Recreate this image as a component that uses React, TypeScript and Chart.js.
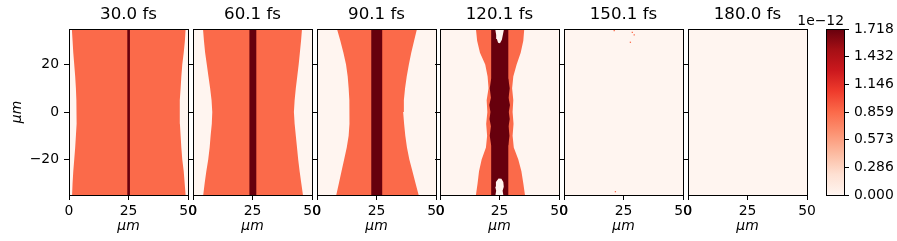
import React, { useEffect, useRef } from 'react';
import { Chart, registerables } from 'chart.js';

Chart.register(...registerables);

// ---------------- data ----------------
const TITLES = ['30.0 fs', '60.1 fs', '90.1 fs', '120.1 fs', '150.1 fs', '180.0 fs'];
const X_RANGE = [0, 50];
const Y_RANGE = [-35, 35];
const X_TICKS = [0, 25, 50];
const Y_TICKS = [-20, 0, 20];
const CB_MAX = 1.7184; // x 1e-12
const CB_TICKS = [0, 0.2864, 0.5728, 0.8592, 1.1456, 1.432, 1.7184];
const CB_OFFSET_TEXT = '1e\u221212';

// field levels (x 1e-12)
const LEVEL_ZERO = 0;
const LEVEL_PLATEAU = 0.8592;
const LEVEL_CORE = 1.7184;

// rows (µm) at which the plateau boundaries were read
const ROW_Y = [35, 30, 25, 20, 15, 10, 5, 0, -5, -10, -15, -20, -25, -30, -35];
const P1_LEFT = [1.2, 1.5, 1.8, 2.2, 2.6, 2.9, 3.1, 3.3, 3.1, 2.9, 2.6, 2.2, 1.8, 1.5, 1.3];
const P1_RIGHT = [49.0, 48.7, 48.2, 47.6, 47.2, 46.9, 46.6, 46.5, 46.6, 46.9, 47.2, 47.6, 48.2, 48.6, 49.0];
const P2_LEFT = [4.2, 4.6, 5.1, 5.8, 6.5, 7.2, 7.8, 8.1, 7.9, 7.4, 7.0, 6.4, 5.6, 4.9, 4.3];
const P2_RIGHT = [45.8, 45.4, 44.9, 44.4, 43.8, 43.2, 42.7, 42.4, 42.7, 43.2, 43.7, 44.2, 44.8, 45.5, 46.2];
const P3_LEFT = [8.4, 9.8, 11.1, 12.2, 12.9, 13.3, 13.6, 13.7, 13.6, 13.3, 12.5, 11.4, 10.3, 9.2, 8.1];
const P3_RIGHT = [42.0, 40.8, 39.6, 38.6, 37.7, 37.0, 36.5, 36.2, 36.6, 37.1, 37.8, 38.8, 40.1, 41.4, 42.7];
const P4_LEFT = [15.1, 15.6, 16.8, 19.0, 20.0, 20.4, 19.6, 19.9, 19.4, 19.8, 19.3, 17.5, 16.4, 15.8, 15.1];
const P4_RIGHT = [35.4, 35.0, 33.9, 32.2, 30.8, 30.3, 30.8, 30.5, 30.9, 30.5, 31.0, 32.9, 34.2, 35.0, 35.7];

// central high-density strip (µm)
const CORE_LO = [24.5, 23.7, 22.8, 21.5, null, null];
const CORE_HI = [25.6, 26.6, 27.4, 28.7, null, null];

// 120.1 fs: ragged core in the middle and the two empty holes
const P4_CORE_Y = [14, 10, 6, 3, 0, -3, -6, -10, -14];
const P4_CORE_LEFT = [21.5, 20.9, 21.4, 20.7, 21.2, 20.8, 21.4, 20.9, 21.5];
const P4_CORE_RIGHT = [28.7, 29.3, 28.8, 29.4, 28.9, 29.3, 28.8, 29.2, 28.7];
const P4_HOLE_TOP_X = [23.2, 26.9, 26.4, 26.0, 25.2, 24.4, 23.9, 23.6];
const P4_HOLE_TOP_Y = [35, 35, 32.5, 30.5, 29.0, 29.2, 30.8, 32.5];
const P4_HOLE_BOT_X = [24.6, 25.8, 26.6, 26.8, 26.3, 26.6, 23.3, 23.6, 23.2, 23.5];
const P4_HOLE_BOT_Y = [-28.0, -28.2, -29.5, -31.5, -33.2, -35, -35, -33.2, -31.5, -29.5];

// 150.1 fs: isolated remaining cells
const P5_SPECK_X = [21.1, 28.7, 29.5, 27.9, 21.6];
const P5_SPECK_Y = [34.3, 33.6, 32.5, 29.4, -33.6];

const PLATEAU_LEFT = [P1_LEFT, P2_LEFT, P3_LEFT, P4_LEFT, null, null];
const PLATEAU_RIGHT = [P1_RIGHT, P2_RIGHT, P3_RIGHT, P4_RIGHT, null, null];

// ---------------- style / layout ----------------
const W = 897;
const H = 241;
const PANEL_LEFT = [69, 193, 317, 440, 564, 688];
const PANEL_W = 119;
const PLOT_TOP = 29;
const PLOT_BOTTOM = 195;
const CB_LEFT = 826;
const CB_RIGHT = 844;
const FONT = 'DejaVu Sans';
const TICK_SIZE = 13.9;
const TITLE_SIZE = 16.67;

const REDS = ['#fff5f0', '#fee0d2', '#fcbba1', '#fc9272', '#fb6a4a', '#ef3b2c', '#cb181d', '#a50f15', '#67000d'];

function hexToRgb(h: string) {
  return [parseInt(h.slice(1, 3), 16), parseInt(h.slice(3, 5), 16), parseInt(h.slice(5, 7), 16)];
}
function reds(v: number) {
  const t = Math.max(0, Math.min(1, v / CB_MAX)) * (REDS.length - 1);
  const i = Math.min(REDS.length - 2, Math.floor(t));
  const f = t - i;
  const a = hexToRgb(REDS[i]);
  const b = hexToRgb(REDS[i + 1]);
  const c = a.map((x, k) => Math.round(x + (b[k] - x) * f));
  return `rgb(${c[0]},${c[1]},${c[2]})`;
}

const band = (ys: number[], lo: number[], hi: number[]) => [
  ...ys.map((y, k) => ({ x: lo[k], y })),
  ...ys.map((y, k) => ({ x: hi[k], y })).reverse(),
];
const rect = (x0: number, x1: number, y0: number, y1: number) => [
  { x: x0, y: y1 },
  { x: x1, y: y1 },
  { x: x1, y: y0 },
  { x: x0, y: y0 },
];
const poly = (xs: number[], ys: number[]) => xs.map((x, k) => ({ x, y: ys[k] }));

const shape = (data: any[], level: number, order: number) => ({
  type: 'line',
  data,
  fill: 'shape',
  backgroundColor: reds(level),
  borderColor: 'rgba(0,0,0,0)',
  borderWidth: 0,
  pointRadius: 0,
  order,
});

const framePlugin = {
  id: 'frame',
  afterDraw(chart: any) {
    const { ctx, chartArea } = chart;
    const l = Math.round(chartArea.left) + 0.5;
    const t = Math.round(chartArea.top) + 0.5;
    const r = Math.round(chartArea.right) + 0.5;
    const b = Math.round(chartArea.bottom) + 0.5;
    ctx.save();
    ctx.strokeStyle = '#000';
    ctx.lineWidth = 1;
    ctx.strokeRect(l, t, r - l, b - t);
    ctx.restore();
  },
};

const offsetTextPlugin = {
  id: 'offsetText',
  afterDraw(chart: any) {
    const { ctx, chartArea } = chart;
    ctx.save();
    ctx.font = `${TICK_SIZE}px "${FONT}"`;
    ctx.fillStyle = '#000';
    ctx.textAlign = 'right';
    ctx.textBaseline = 'alphabetic';
    ctx.fillText(CB_OFFSET_TEXT, chartArea.right, chartArea.top - 4);
    ctx.restore();
  },
};

function panelDatasets(i: number) {
  const ds: any[] = [];
  ds.push(shape(rect(X_RANGE[0], X_RANGE[1], Y_RANGE[0], Y_RANGE[1]), LEVEL_ZERO, 10));
  const lo = PLATEAU_LEFT[i];
  const hi = PLATEAU_RIGHT[i];
  if (lo && hi) ds.push(shape(band(ROW_Y, lo, hi), LEVEL_PLATEAU, 8));
  const c0 = CORE_LO[i];
  const c1 = CORE_HI[i];
  if (c0 != null && c1 != null) ds.push(shape(rect(c0, c1, Y_RANGE[0], Y_RANGE[1]), LEVEL_CORE, 6));
  if (i === 3) {
    ds.push(shape(band(P4_CORE_Y, P4_CORE_LEFT, P4_CORE_RIGHT), LEVEL_CORE, 5));
    ds.push(shape(poly(P4_HOLE_TOP_X, P4_HOLE_TOP_Y), LEVEL_ZERO, 4));
    ds.push(shape(poly(P4_HOLE_BOT_X, P4_HOLE_BOT_Y), LEVEL_ZERO, 4));
  }
  if (i === 4) {
    ds.push({
      type: 'line',
      data: poly(P5_SPECK_X, P5_SPECK_Y),
      showLine: false,
      pointStyle: 'rect',
      pointRadius: 0.9,
      pointBorderWidth: 0,
      backgroundColor: reds(LEVEL_PLATEAU),
      borderColor: 'rgba(0,0,0,0)',
      order: 2,
    });
  }
  return ds;
}

function panelConfig(i: number): any {
  const yW = i === 0 ? 69 : 5;
  const left = PANEL_LEFT[i];
  const X_AXIS_H = H - PLOT_BOTTOM;
  return {
    type: 'line',
    data: { datasets: panelDatasets(i) },
    plugins: [framePlugin],
    options: {
      responsive: false,
      maintainAspectRatio: false,
      animation: false,
      devicePixelRatio: 1,
      events: [],
      layout: { padding: { left: left - yW, right: W - left - PANEL_W, top: 0, bottom: 0 } },
      plugins: { legend: { display: false }, tooltip: { enabled: false }, title: { display: false } },
      scales: {
        x: {
          type: 'linear',
          position: 'bottom',
          min: X_RANGE[0],
          max: X_RANGE[1],
          afterBuildTicks: (s: any) => {
            s.ticks = X_TICKS.map((v) => ({ value: v }));
          },
          afterFit: (s: any) => {
            s.height = X_AXIS_H;
            s.paddingLeft = 0;
            s.paddingRight = 0;
          },
          grid: { display: true, drawOnChartArea: false, drawTicks: true, tickLength: 5, color: '#000', lineWidth: 1 },
          border: { display: false },
          ticks: {
            padding: 3.5,
            color: '#000',
            maxRotation: 0,
            autoSkip: false,
            font: { family: FONT, size: TICK_SIZE },
            callback: (v: number) => String(v),
          },
          title: {
            display: true,
            text: 'μm',
            color: '#000',
            font: { family: FONT, size: TICK_SIZE, style: 'italic' },
            padding: { top: 0, bottom: 5.8 },
          },
        },
        xTop: {
          type: 'linear',
          position: 'top',
          min: 0,
          max: 1,
          afterFit: (s: any) => {
            s.height = PLOT_TOP;
            s.paddingLeft = 0;
            s.paddingRight = 0;
          },
          grid: { display: false },
          border: { display: false },
          ticks: { display: false },
          title: {
            display: true,
            text: TITLES[i],
            color: '#000',
            font: { family: FONT, size: TITLE_SIZE },
            padding: { top: 4.9, bottom: 0 },
          },
        },
        y: {
          type: 'linear',
          position: 'left',
          min: Y_RANGE[0],
          max: Y_RANGE[1],
          afterBuildTicks: (s: any) => {
            s.ticks = Y_TICKS.map((v) => ({ value: v }));
          },
          afterFit: (s: any) => {
            s.width = yW;
            s.paddingTop = 0;
            s.paddingBottom = 0;
          },
          grid: { display: true, drawOnChartArea: false, drawTicks: true, tickLength: 5, color: '#000', lineWidth: 1 },
          border: { display: false },
          ticks: {
            display: i === 0,
            padding: 5,
            color: '#000',
            autoSkip: false,
            font: { family: FONT, size: TICK_SIZE },
            callback: (v: number) => (v < 0 ? '\u2212' + Math.abs(v) : String(v)),
          },
          title: {
            display: i === 0,
            text: 'μm',
            color: '#000',
            font: { family: FONT, size: TICK_SIZE, style: 'italic' },
            padding: { top: 8.6, bottom: 0 },
          },
        },
      },
    },
  };
}

function colorbarConfig(): any {
  const yW = W - CB_RIGHT;
  return {
    type: 'bar',
    data: {
      labels: ['field'],
      datasets: [
        {
          data: [[0, CB_MAX]],
          borderWidth: 0,
          categoryPercentage: 1,
          barPercentage: 1,
          backgroundColor: (c: any) => {
            const area = c.chart.chartArea;
            if (!area) return REDS[0];
            const g = c.chart.ctx.createLinearGradient(0, area.bottom, 0, area.top);
            REDS.forEach((col, k) => g.addColorStop(k / (REDS.length - 1), col));
            return g;
          },
        },
      ],
    },
    plugins: [framePlugin, offsetTextPlugin],
    options: {
      responsive: false,
      maintainAspectRatio: false,
      animation: false,
      devicePixelRatio: 1,
      events: [],
      layout: { padding: { left: CB_LEFT, right: 0, top: PLOT_TOP, bottom: H - PLOT_BOTTOM } },
      plugins: { legend: { display: false }, tooltip: { enabled: false } },
      scales: {
        x: { type: 'category', display: false, offset: true },
        y: {
          type: 'linear',
          position: 'right',
          min: 0,
          max: CB_MAX,
          afterBuildTicks: (s: any) => {
            s.ticks = CB_TICKS.map((v) => ({ value: v }));
          },
          afterFit: (s: any) => {
            s.width = yW;
            s.paddingTop = 0;
            s.paddingBottom = 0;
          },
          grid: { display: true, drawOnChartArea: false, drawTicks: true, tickLength: 5, color: '#000', lineWidth: 1 },
          border: { display: false },
          ticks: {
            padding: 5,
            color: '#000',
            autoSkip: false,
            font: { family: FONT, size: TICK_SIZE },
            callback: (v: number) => v.toFixed(3),
          },
        },
      },
    },
  };
}

function ChartCanvas({ make }: { make: () => any }) {
  const ref = useRef<HTMLCanvasElement | null>(null);
  useEffect(() => {
    if (!ref.current) return;
    const chart = new Chart(ref.current, make());
    return () => chart.destroy();
  }, []);
  return (
    <canvas
      ref={ref}
      width={W}
      height={H}
      style={{ position: 'absolute', left: 0, top: 0, width: W, height: H }}
    />
  );
}

export default function App() {
  return (
    <div style={{ position: 'fixed', left: 0, top: 0, width: W, height: H, background: '#fff', overflow: 'hidden' }}>
      {TITLES.map((_, i) => (
        <ChartCanvas key={i} make={() => panelConfig(i)} />
      ))}
      <ChartCanvas make={colorbarConfig} />
    </div>
  );
}
